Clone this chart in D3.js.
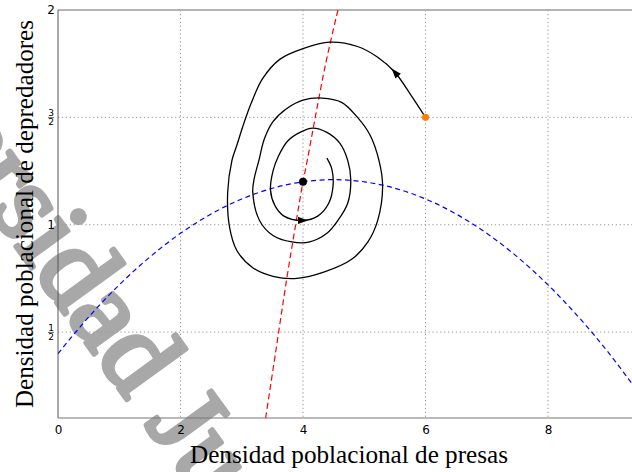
<!DOCTYPE html>
<html>
<head>
<meta charset="utf-8">
<script src="https://cdn.jsdelivr.net/npm/d3@7"></script>
<style>
body { margin: 0; background: #fff; }
svg { display: block; }
</style>
</head>
<body>
<div id="chart"></div>
<script>
// axis ticks
var x_ticks = [0, 2, 4, 6, 8];
var y_ticks = [0.5, 1, 1.5, 2];
var y_tick_labels = [["1", "2"], "1", ["3", "2"], "2"];

// prey nullcline (blue dashed)
var prey_x = [0, 0.5, 1, 1.5, 2, 2.5, 3, 3.5, 4, 4.5, 5, 5.5, 6, 6.5, 7, 7.5, 8, 8.5, 9, 9.5];
var prey_y = [0.40, 0.57, 0.72, 0.85, 0.96, 1.05, 1.12, 1.17, 1.20, 1.21, 1.20, 1.17, 1.12, 1.05, 0.96, 0.85, 0.72, 0.57, 0.40, 0.21];

// predator nullcline (red dashed)
var pred_x = [3.39, 3.55, 3.73, 3.88, 4.00, 4.07, 4.20, 4.37, 4.57];
var pred_y = [0.10, 0.40, 0.74, 1.00, 1.20, 1.30, 1.50, 1.75, 2.00];

// trajectory from (6, 3/2) spiralling in
var orbit_x = [6.00, 5.77, 5.50, 5.22, 4.89, 4.44, 4.00, 3.62, 3.34, 3.16, 3.02, 2.92, 2.84, 2.77, 2.80, 2.92, 3.18, 3.51, 3.90, 4.35,
               4.80, 5.06, 5.22, 5.30, 5.24, 5.09, 4.89, 4.63, 4.31, 4.00, 3.73, 3.51, 3.37, 3.28, 3.20, 3.18, 3.29, 3.51, 3.82, 4.11,
               4.39, 4.57, 4.73, 4.78, 4.73, 4.60, 4.39, 4.16, 3.95, 3.75, 3.60, 3.51, 3.47, 3.54, 3.69, 4.00, 4.24, 4.42, 4.49, 4.47, 4.39];
var orbit_y = [1.50, 1.60, 1.71, 1.78, 1.83, 1.85, 1.82, 1.77, 1.68, 1.57, 1.46, 1.37, 1.30, 1.15, 0.99, 0.88, 0.80, 0.76, 0.75, 0.78,
               0.84, 0.92, 1.02, 1.18, 1.30, 1.42, 1.50, 1.57, 1.59, 1.58, 1.54, 1.48, 1.40, 1.30, 1.21, 1.15, 1.02, 0.95, 0.92, 0.92,
               0.96, 1.02, 1.10, 1.21, 1.30, 1.38, 1.43, 1.45, 1.43, 1.39, 1.32, 1.25, 1.16, 1.09, 1.04, 1.02, 1.04, 1.10, 1.18, 1.26, 1.31];
var arrow_idx = [2, 55];

var start_point = [6, 1.5];
var equilibrium = [4, 1.2];

var x_label = "Densidad poblacional de presas";
var y_label = "Densidad poblacional de depredadores";
var watermark = "Universidad Juárez";

function draw_chart() {
    var width = 632;
    var height = 472;
    var padding = { "left": 58, "top": 10, "bottom": 418 };

    var svg = d3.select("#chart")
        .append("svg")
        .attr("width", width)
        .attr("height", height);

    var x_scale = d3.scaleLinear()
        .domain([0, 10])
        .range([padding.left, padding.left + 612.5]);
    var y_scale = d3.scaleLinear()
        .domain([0.1, 2])
        .range([padding.bottom, padding.top]);

    // watermark behind everything
    svg.append("text")
        .text(watermark)
        .attr("transform", "translate(-194,-42) rotate(54)")
        .attr("font-family", "Liberation Serif")
        .attr("font-size", 112)
        .attr("fill", "#a8a8a8")
        .attr("stroke", "#a8a8a8")
        .attr("stroke-width", 5)
        .attr("stroke-linejoin", "round");

    // grid
    svg.selectAll(".vgrid").data(x_ticks.slice(1))
        .enter().append("line")
        .attr("x1", function (d) { return x_scale(d); })
        .attr("x2", function (d) { return x_scale(d); })
        .attr("y1", padding.top)
        .attr("y2", padding.bottom)
        .attr("stroke", "#999")
        .attr("stroke-width", 1)
        .attr("stroke-dasharray", "1.3,2.6");
    svg.selectAll(".hgrid").data(y_ticks.slice(0, 3))
        .enter().append("line")
        .attr("x1", padding.left)
        .attr("x2", width)
        .attr("y1", function (d) { return y_scale(d); })
        .attr("y2", function (d) { return y_scale(d); })
        .attr("stroke", "#999")
        .attr("stroke-width", 1)
        .attr("stroke-dasharray", "1.3,2.6");

    // frame: top, left, bottom
    svg.append("line")
        .attr("x1", padding.left).attr("x2", width)
        .attr("y1", padding.top).attr("y2", padding.top)
        .attr("stroke", "#9a9a9a").attr("stroke-width", 1.5);
    svg.append("line")
        .attr("x1", padding.left).attr("x2", padding.left)
        .attr("y1", padding.top).attr("y2", padding.bottom)
        .attr("stroke", "#555").attr("stroke-width", 1);
    svg.append("line")
        .attr("x1", padding.left).attr("x2", width)
        .attr("y1", padding.bottom).attr("y2", padding.bottom)
        .attr("stroke", "#777").attr("stroke-width", 1.2);

    // x tick labels
    var x_axis = d3.axisBottom(x_scale)
        .tickValues(x_ticks)
        .tickSize(0)
        .tickPadding(7)
        .tickFormat(d3.format("d"));
    var gx = svg.append("g")
        .attr("transform", "translate(0," + padding.bottom + ")")
        .call(x_axis);
    gx.select(".domain").remove();
    gx.selectAll("text")
        .attr("font-family", "DejaVu Sans")
        .attr("font-size", 12)
        .attr("fill", "#000");

    // y tick labels (fractions stacked)
    y_ticks.forEach(function (d, i) {
        var lab = y_tick_labels[i];
        var yy = y_scale(d);
        if (Array.isArray(lab)) {
            svg.append("text").text(lab[0])
                .attr("x", 51).attr("y", yy - 1.5)
                .attr("text-anchor", "middle")
                .attr("font-family", "DejaVu Sans").attr("font-size", 9);
            svg.append("line")
                .attr("x1", 48).attr("x2", 54)
                .attr("y1", yy + 0.3).attr("y2", yy + 0.3)
                .attr("stroke", "#000").attr("stroke-width", 0.6);
            svg.append("text").text(lab[1])
                .attr("x", 51).attr("y", yy + 8)
                .attr("text-anchor", "middle")
                .attr("font-family", "DejaVu Sans").attr("font-size", 9);
        } else {
            svg.append("text").text(lab)
                .attr("x", 55).attr("y", yy)
                .attr("dy", "0.36em")
                .attr("text-anchor", "end")
                .attr("font-family", "DejaVu Sans").attr("font-size", 12);
        }
    });

    var line = d3.line()
        .x(function (d) { return x_scale(d[0]); })
        .y(function (d) { return y_scale(d[1]); });

    // clip to the plot area
    svg.append("clipPath").attr("id", "plot-clip")
        .append("rect")
        .attr("x", padding.left).attr("y", padding.top)
        .attr("width", width - padding.left)
        .attr("height", padding.bottom - padding.top);
    var plot = svg.append("g").attr("clip-path", "url(#plot-clip)");

    var prey_pts = prey_x.map(function (d, i) { return [d, prey_y[i]]; });
    plot.append("path")
        .datum(prey_pts)
        .attr("d", line.curve(d3.curveCatmullRom))
        .attr("fill", "none")
        .attr("stroke", "#0000ff")
        .attr("stroke-width", 1.2)
        .attr("stroke-dasharray", "5,3.5");

    var pred_pts = pred_x.map(function (d, i) { return [d, pred_y[i]]; });
    plot.append("path")
        .datum(pred_pts)
        .attr("d", line.curve(d3.curveCatmullRom))
        .attr("fill", "none")
        .attr("stroke", "#ff0000")
        .attr("stroke-width", 1.2)
        .attr("stroke-dasharray", "6,3.5");

    var orbit_pts = orbit_x.map(function (d, i) { return [d, orbit_y[i]]; });
    plot.append("path")
        .datum(orbit_pts)
        .attr("d", line.curve(d3.curveCatmullRom.alpha(0.5)))
        .attr("fill", "none")
        .attr("stroke", "#000")
        .attr("stroke-width", 1.3);

    // arrow heads along the trajectory
    arrow_idx.forEach(function (k) {
        var p0 = orbit_pts[k - 1], p1 = orbit_pts[k], p2 = orbit_pts[k + 1];
        var ang = Math.atan2(y_scale(p2[1]) - y_scale(p0[1]), x_scale(p2[0]) - x_scale(p0[0])) * 180 / Math.PI;
        plot.append("path")
            .attr("d", "M5,0 L-5,-3.6 L-5,3.6 Z")
            .attr("transform", "translate(" + x_scale(p1[0]) + "," + y_scale(p1[1]) + ") rotate(" + ang + ")")
            .attr("fill", "#000");
    });

    plot.append("circle")
        .attr("cx", x_scale(equilibrium[0]))
        .attr("cy", y_scale(equilibrium[1]))
        .attr("r", 4)
        .attr("fill", "#000");
    plot.append("circle")
        .attr("cx", x_scale(start_point[0]))
        .attr("cy", y_scale(start_point[1]))
        .attr("r", 3.6)
        .attr("fill", "#ff8000");

    // axis titles
    svg.append("text")
        .text(x_label)
        .attr("x", 349)
        .attr("y", 463)
        .attr("text-anchor", "middle")
        .attr("font-family", "Liberation Serif")
        .attr("font-size", 25)
        .attr("textLength", 318)
        .attr("lengthAdjust", "spacingAndGlyphs");
    svg.append("text")
        .text(y_label)
        .attr("transform", "translate(33,214) rotate(-90)")
        .attr("text-anchor", "middle")
        .attr("font-family", "Liberation Serif")
        .attr("font-size", 25)
        .attr("textLength", 388)
        .attr("lengthAdjust", "spacingAndGlyphs");
}

draw_chart();
</script>
</body>
</html>
